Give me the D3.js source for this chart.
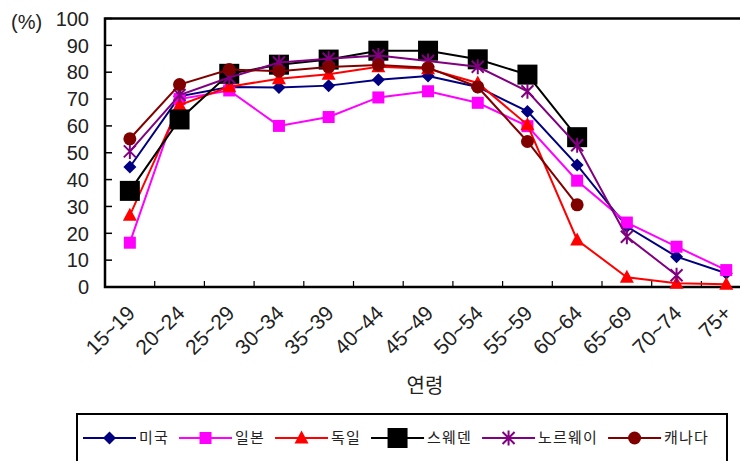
<!DOCTYPE html>
<html>
<head>
<meta charset="utf-8">
<script src="https://cdn.jsdelivr.net/npm/d3@7"></script>
<style>
  html, body { margin: 0; padding: 0; background: #fff; overflow: hidden; }
  svg { display: block; }
  .num { font-family: Arial, "Liberation Sans", sans-serif; fill: #222; }
  .kr { font-family: "Noto Sans CJK KR", "Noto Sans", sans-serif; fill: #222; }
</style>
</head>
<body>
<svg id="chart" width="740" height="461"></svg>
<script>
// Age groups on the x axis
const ageGroups = ["15~19", "20~24", "25~29", "30~34", "35~39", "40~44", "45~49",
                   "50~54", "55~59", "60~64", "65~69", "70~74", "75+"];

// Labour force participation rate (%) by age group
const usa     = [44.7, 71.0, 74.5, 74.3, 75.0, 77.2, 78.6, 74.5, 65.4, 45.4, 22.5, 11.3, 5.1];
const japan   = [16.5, 70.0, 73.2, 60.0, 63.3, 70.6, 72.9, 68.6, 59.9, 39.6, 24.0, 15.0, 6.3];
const germany = [26.7, 67.8, 74.6, 77.6, 79.2, 82.0, 81.3, 76.0, 60.4, 17.5, 3.6, 1.4, 1.0];
const sweden  = [35.8, 62.4, 79.4, 82.8, 84.7, 88.0, 88.0, 84.8, 79.1, 55.8];
const norway  = [50.5, 71.5, 78.0, 83.6, 85.0, 86.2, 84.2, 82.0, 72.9, 52.8, 18.7, 4.4];
const canada  = [55.2, 75.4, 81.0, 80.4, 81.9, 82.7, 81.7, 74.5, 54.2, 30.6];

const seriesNames = ["미국", "일본", "독일", "스웨덴", "노르웨이", "캐나다"];
const yTicks = [0, 10, 20, 30, 40, 50, 60, 70, 80, 90, 100];

const series = [
  { name: seriesNames[0], values: usa,     color: "#000080", marker: "diamond" },
  { name: seriesNames[1], values: japan,   color: "#ff00ff", marker: "square" },
  { name: seriesNames[2], values: germany, color: "#ff0000", marker: "triangle" },
  { name: seriesNames[3], values: sweden,  color: "#000000", marker: "bigsquare" },
  { name: seriesNames[4], values: norway,  color: "#800080", marker: "star" },
  { name: seriesNames[5], values: canada,  color: "#800000", marker: "circle" }
];

const svg = d3.select("#chart");

const plotLeft = 105, plotTop = 18.5, plotBottom = 287;
const band = 49.7;

const x = d3.scaleBand().domain(ageGroups).range([plotLeft, plotLeft + band * ageGroups.length]).padding(0);
const y = d3.scaleLinear().domain([0, 100]).range([plotBottom, plotTop]);
const cx = d => x(d) + x.bandwidth() / 2;

// Marker drawing
function drawMarker(g, type, color) {
  switch (type) {
    case "diamond":
      g.append("path").attr("d", "M0,-6.5L6.5,0L0,6.5L-6.5,0Z").attr("fill", color);
      break;
    case "square":
      g.append("rect").attr("x", -6).attr("y", -6).attr("width", 12).attr("height", 12).attr("fill", color);
      break;
    case "bigsquare":
      g.append("rect").attr("x", -10).attr("y", -10).attr("width", 20).attr("height", 20).attr("fill", color);
      break;
    case "triangle":
      g.append("path").attr("d", "M0,-7.5L7,5.5L-7,5.5Z").attr("fill", color);
      break;
    case "circle":
      g.append("circle").attr("r", 6.5).attr("fill", color);
      break;
    case "star":
      g.append("path").attr("d", "M-6,-6L6,6M-6,6L6,-6M0,-7.5L0,7.5")
        .attr("stroke", color).attr("stroke-width", 2).attr("fill", "none");
      break;
  }
}

// Plot frame (right side runs off the canvas)
svg.append("path")
  .attr("d", `M${plotLeft + 900},${plotTop}H${plotLeft}V${plotBottom}H${plotLeft + 900}`)
  .attr("fill", "none").attr("stroke", "#000").attr("stroke-width", 2.5);

// Y axis ticks (inside) and labels
const yAxis = svg.append("g");
yTicks.forEach(t => {
  yAxis.append("line").attr("x1", plotLeft).attr("x2", plotLeft + 7)
    .attr("y1", y(t)).attr("y2", y(t)).attr("stroke", "#000").attr("stroke-width", 1.5);
  yAxis.append("text").attr("class", "num")
    .attr("x", 89).attr("y", y(t)).attr("dy", "0.36em")
    .attr("text-anchor", "end").attr("font-size", 20).text(t);
});
svg.append("text").attr("class", "num").attr("x", 11).attr("y", 22).attr("dy", "0.36em")
  .attr("font-size", 20).text("(%)");

// X axis ticks between categories
const xAxis = svg.append("g");
ageGroups.slice(1).forEach(c => {
  xAxis.append("line").attr("x1", x(c)).attr("x2", x(c))
    .attr("y1", plotBottom).attr("y2", plotBottom - 6).attr("stroke", "#000").attr("stroke-width", 1.2);
});
ageGroups.forEach(c => {
  xAxis.append("text").attr("class", "num")
    .attr("transform", `translate(${cx(c) - 4},${plotBottom + 17}) rotate(-45)`)
    .attr("text-anchor", "end").attr("dy", "0.7em")
    .attr("font-size", 21).text(c);
});
svg.append("text").attr("class", "kr").attr("x", 425).attr("y", 393)
  .attr("text-anchor", "middle").attr("font-size", 20).text("연령");

// Series lines and markers
const line = d3.line().x((d, i) => cx(ageGroups[i])).y(d => y(d));
series.forEach(s => {
  const g = svg.append("g");
  g.append("path").datum(s.values).attr("d", line)
    .attr("fill", "none").attr("stroke", s.color).attr("stroke-width", 2);
  s.values.forEach((v, i) => {
    const m = g.append("g").attr("transform", `translate(${cx(ageGroups[i])},${y(v)})`);
    drawMarker(m, s.marker, s.color);
  });
});

// Legend
const lg = svg.append("g");
lg.append("rect").attr("x", 77).attr("y", 414).attr("width", 650).attr("height", 70)
  .attr("fill", "none").attr("stroke", "#000").attr("stroke-width", 2);
let lx = 83;
const ly = 438;
series.forEach(s => {
  lg.append("line").attr("x1", lx).attr("x2", lx + 53).attr("y1", ly).attr("y2", ly)
    .attr("stroke", s.color).attr("stroke-width", 2);
  const m = lg.append("g").attr("transform", `translate(${lx + 26.5},${ly})`);
  drawMarker(m, s.marker, s.color);
  const t = lg.append("text").attr("class", "kr").attr("x", lx + 56).attr("y", ly)
    .attr("dy", "0.36em").attr("font-size", 15).attr("letter-spacing", 1.2).text(s.name);
  lx = lx + 56 + t.node().getComputedTextLength() + 10;
});
</script>
</body>
</html>
